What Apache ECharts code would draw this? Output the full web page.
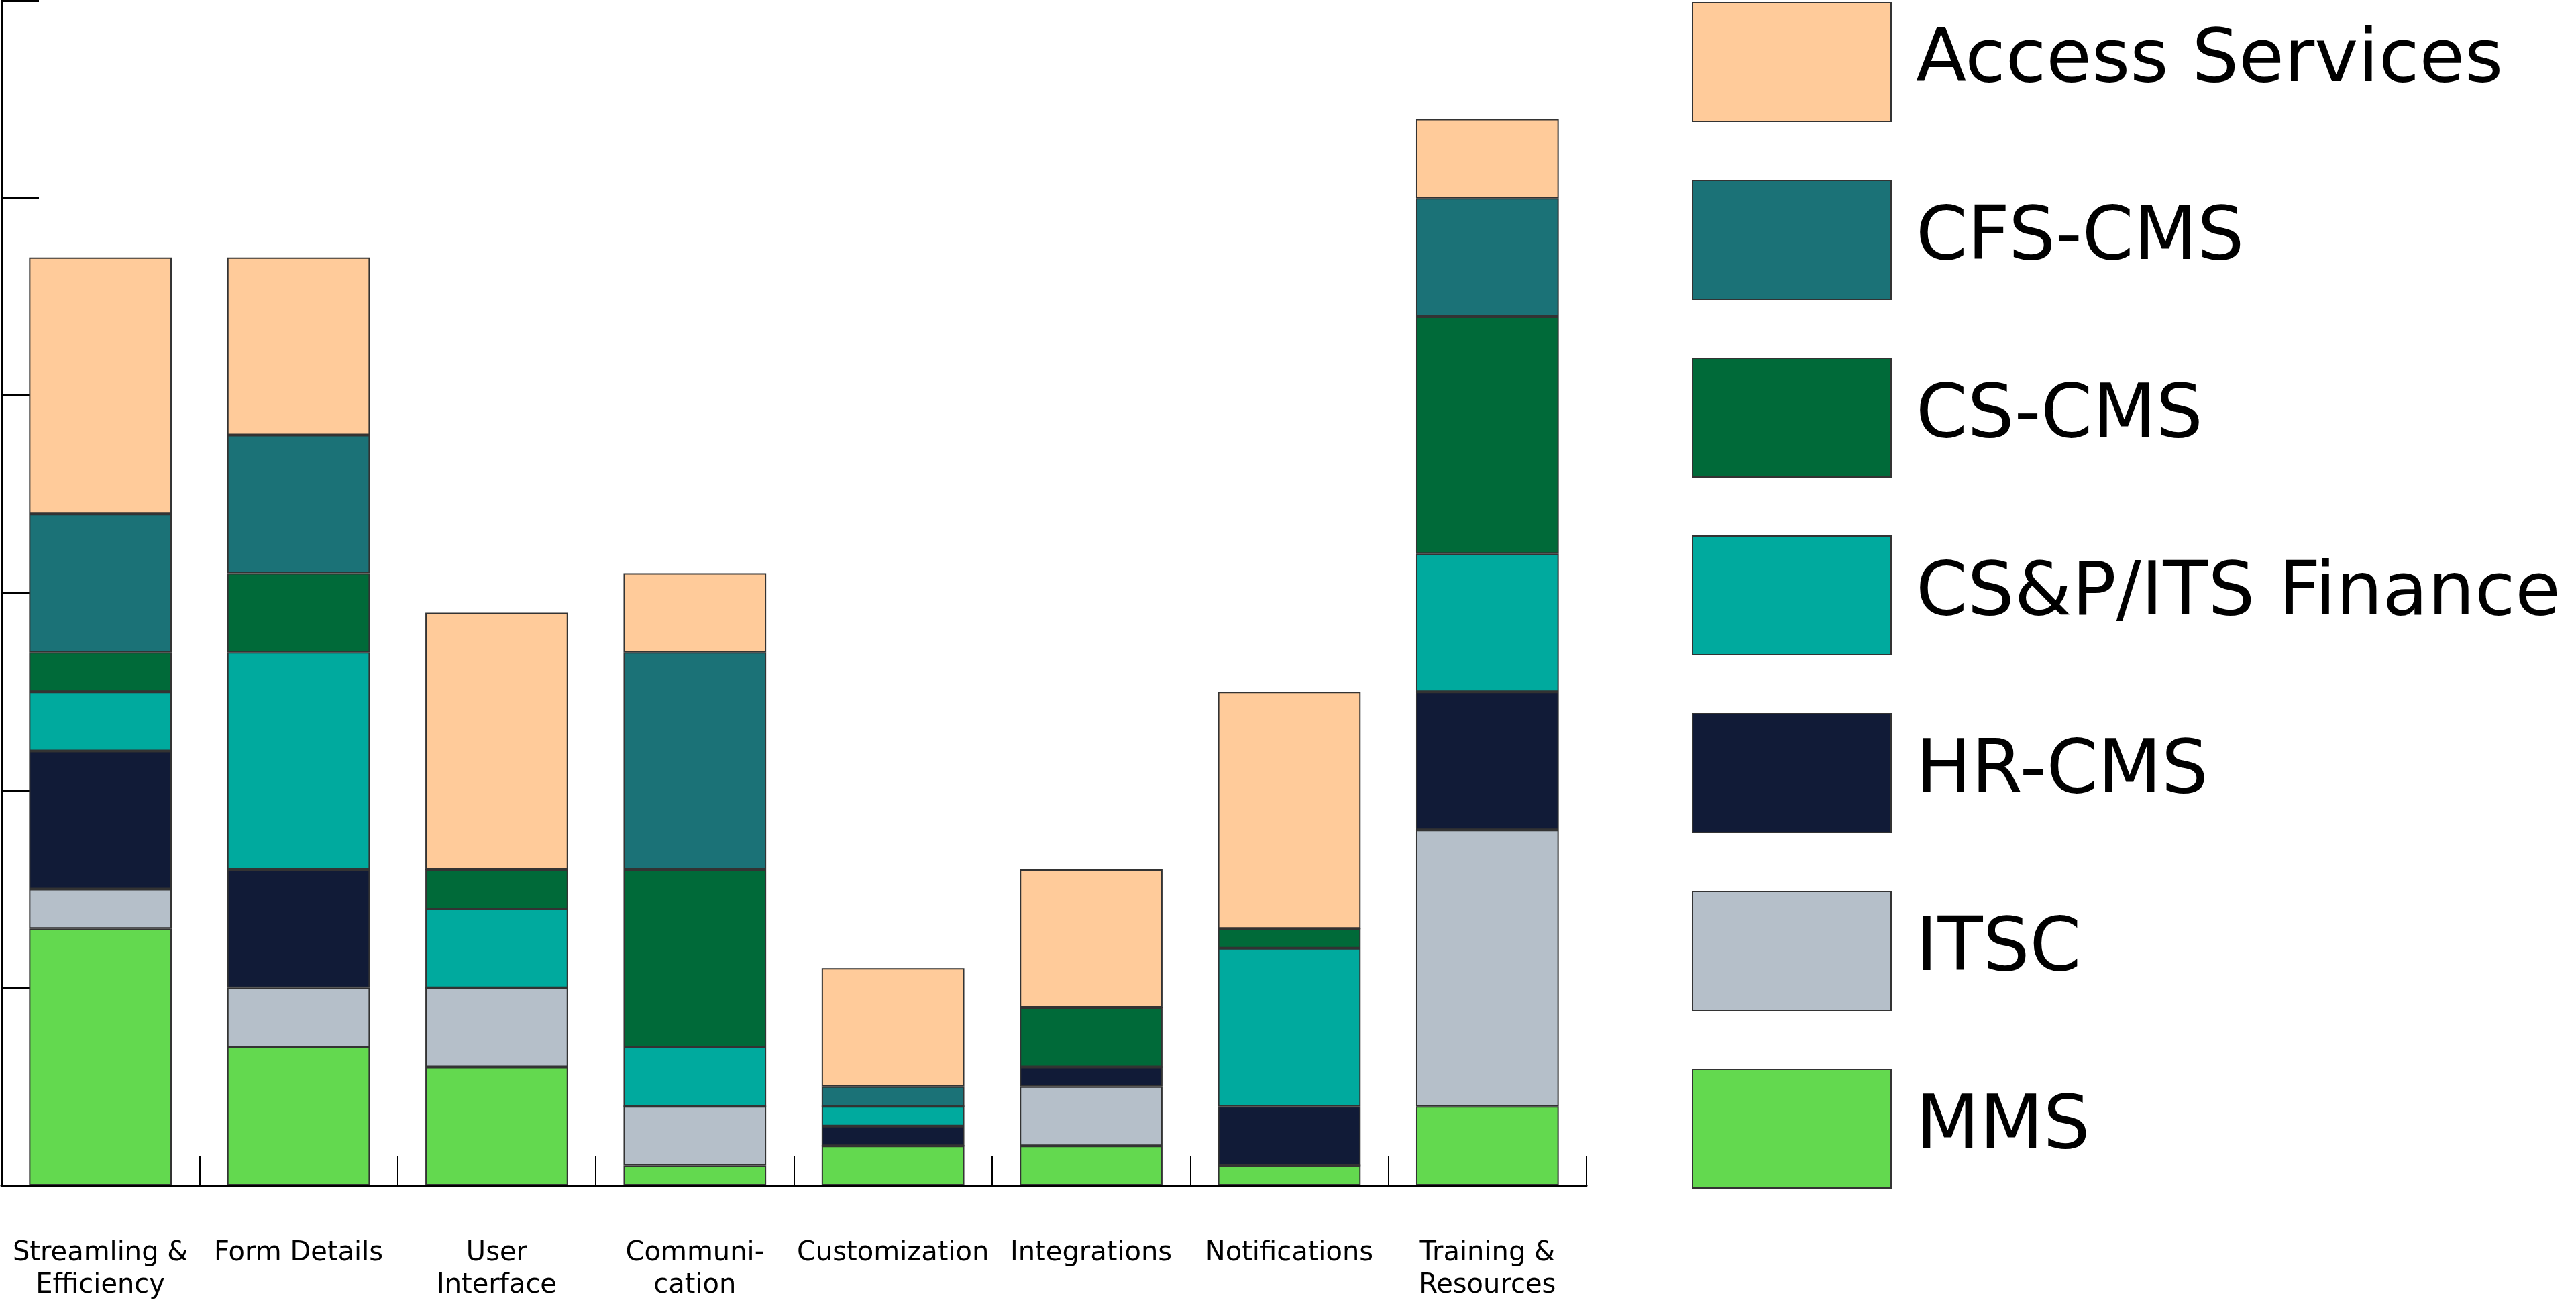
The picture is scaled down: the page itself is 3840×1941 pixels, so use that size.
<!DOCTYPE html>
<html>
<head>
<meta charset="utf-8">
<style>html,body{margin:0;padding:0;background:#fff}#c{width:3840px;height:1941px}</style>
<script src="https://cdn.jsdelivr.net/npm/echarts@6/dist/echarts.min.js"></script>
</head>
<body>
<div id="c"></div>
<script>
const categories = ['Streamling &\nEfficiency','Form Details','User\nInterface','Communi-\ncation','Customization','Integrations','Notifications','Training &\nResources'];
const seriesNames = ['MMS','ITSC','HR-CMS','CS&P/ITS Finance','CS-CMS','CFS-CMS','Access Services'];
const mms      = [13, 7, 6, 1, 2, 2, 1, 4];
const itsc     = [2, 3, 4, 3, 0, 3, 0, 14];
const hrCms    = [7, 6, 0, 0, 1, 1, 3, 7];
const cspFin   = [3, 11, 4, 3, 1, 0, 8, 7];
const csCms    = [2, 4, 2, 9, 0, 3, 1, 12];
const cfsCms   = [7, 7, 0, 11, 1, 0, 0, 6];
const access   = [13, 9, 13, 4, 6, 7, 12, 4];
const seriesValues = [mms, itsc, hrCms, cspFin, csCms, cfsCms, access];
const colors = ['#63D94F','#B5BFC9','#111B37','#00AA9E','#006A39','#1B7277','#FFCB9A'];
const legendOrder = ['Access Services','CFS-CMS','CS-CMS','CS&P/ITS Finance','HR-CMS','ITSC','MMS'];

const chart = echarts.init(document.getElementById('c'));
const FONT = 'DejaVu Sans';
chart.setOption({
  animation: false,
  backgroundColor: '#fff',
  grid: { left: 2, right: 1475, top: 1, bottom: 168, containLabel: false },
  legend: {
    orient: 'vertical',
    left: 2522, top: 3,
    padding: 0,
    itemWidth: 296, itemHeight: 177, itemGap: 86,
    icon: 'rect',
    data: legendOrder,
    itemStyle: { borderColor: '#333', borderWidth: 2 },
    textStyle: { fontFamily: FONT, fontSize: 110, color: '#000', padding: [0,0,0,32] }
  },
  xAxis: {
    type: 'category',
    data: categories,
    boundaryGap: true,
    axisLine: { show: true, lineStyle: { color: '#000', width: 3 } },
    axisTick: { show: true, inside: true, length: 44, lineStyle: { color: '#000', width: 2 } },
    axisLabel: { fontFamily: FONT, fontSize: 40, lineHeight: 48, color: '#000', margin: 78, interval: 0, align: 'center' }
  },
  yAxis: {
    type: 'value', min: 0, max: 60, interval: 10,
    axisLine: { show: true, lineStyle: { color: '#000', width: 3 } },
    axisTick: { show: true, inside: true, length: 56, lineStyle: { color: '#000', width: 3 } },
    axisLabel: { show: false },
    splitLine: { show: false }
  },
  series: seriesNames.map((n, i) => ({
    name: n,
    type: 'bar',
    stack: 'total',
    barWidth: '72%',
    data: seriesValues[i],
    itemStyle: { color: colors[i], borderColor: '#333', borderWidth: 2 }
  }))
});
</script>
</body>
</html>
